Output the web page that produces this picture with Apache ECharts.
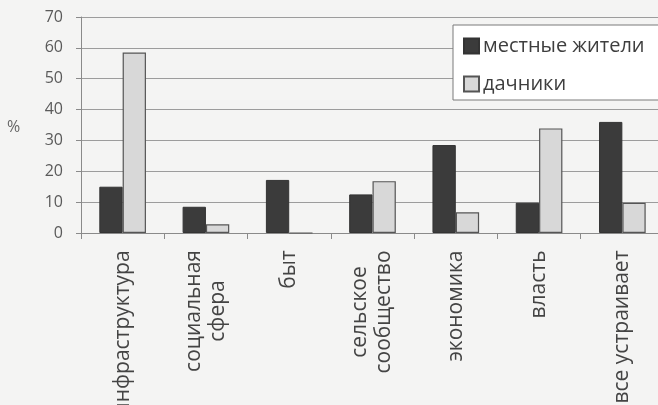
<!DOCTYPE html>
<html>
<head>
<meta charset="utf-8">
<script src="https://cdn.jsdelivr.net/npm/echarts@6/dist/echarts.min.js"></script>
<style>
html,body{margin:0;padding:0;background:#f4f4f3;}
#chart{width:658px;height:405px;}
</style>
</head>
<body>
<div id="chart"></div>
<script>
var categories = ['инфраструктура', 'социальная\nсфера', 'быт', 'сельское\nсообщество', 'экономика', 'власть', 'все устраивает'];
var seriesNames = ['местные жители', 'дачники'];
var localValues = [15, 8.5, 17.2, 12.5, 28.5, 9.8, 36];
var dachaValues = [58.5, 2.8, 0, 16.8, 6.7, 33.9, 9.8];
var yTicks = [0, 10, 20, 30, 40, 50, 60, 70];

var font = '"Open Sans", "DejaVu Sans", sans-serif';
var xFontSize = 21;

// per-label rich styles so that lines of a multi-line label are centred on each other
var ctx = document.createElement('canvas').getContext('2d');
ctx.font = xFontSize + 'px ' + font;
var rich = {};
categories.forEach(function (c, i) {
  var w = Math.max.apply(null, c.split('\n').map(function (s) { return ctx.measureText(s).width; }));
  rich['c' + i] = {align: 'center', width: Math.ceil(w), fontFamily: font, fontSize: xFontSize, color: '#444', lineHeight: 24};
});

var chart = echarts.init(document.getElementById('chart'), null, {renderer: 'canvas'});
chart.setOption({
  backgroundColor: '#f4f4f3',
  animation: false,
  grid: {left: 81, top: 17, width: 583, height: 216, containLabel: false, outerBoundsMode: 'none'},
  legend: {
    orient: 'vertical',
    left: 453, top: 25,
    width: 201,
    padding: [11, 18, 6, 10],
    itemGap: 18,
    itemWidth: 15, itemHeight: 15,
    icon: 'rect',
    backgroundColor: '#ffffff',
    borderColor: '#7a7a7a', borderWidth: 1,
    textStyle: {fontFamily: font, fontSize: 20, color: '#3e3e3e', padding: [0, 0, 0, -1]},
    data: seriesNames
  },
  graphic: [{type: 'text', left: 7, top: 119, style: {text: '%', fontFamily: font, fontSize: 16, fill: '#666'}}],
  xAxis: {
    type: 'category',
    data: categories,
    axisLine: {lineStyle: {color: '#8a8a8a', width: 1}},
    axisTick: {show: true, length: 6, lineStyle: {color: '#8a8a8a'}},
    axisLabel: {
      rotate: 90, margin: 17, color: '#444', fontFamily: font, fontSize: xFontSize,
      interval: 0,
      formatter: function (v) {
        var i = categories.indexOf(v);
        return v.split('\n').map(function (s) { return '{c' + i + '|' + s + '}'; }).join('\n');
      },
      rich: rich
    }
  },
  yAxis: {
    type: 'value', min: 0, max: 70, interval: 10,
    axisLine: {show: true, lineStyle: {color: '#8a8a8a'}},
    axisTick: {show: true, length: 5, lineStyle: {color: '#8a8a8a'}},
    axisLabel: {color: '#5a5a5a', fontFamily: font, fontSize: 16, margin: 18,
      formatter: function (v) { return yTicks.indexOf(v) >= 0 ? String(v) : ''; }},
    splitLine: {lineStyle: {color: '#9c9c9c', width: 1}}
  },
  series: [
    {name: seriesNames[0], type: 'bar', data: localValues, barGap: '0%', barCategoryGap: '44%',
      itemStyle: {color: '#3b3b3b', borderColor: '#333', borderWidth: 1}},
    {name: seriesNames[1], type: 'bar', data: dachaValues, barGap: '0%', barCategoryGap: '44%',
      itemStyle: {color: '#d8d8d8', borderColor: '#555', borderWidth: 1.2}}
  ]
});
</script>
</body>
</html>
